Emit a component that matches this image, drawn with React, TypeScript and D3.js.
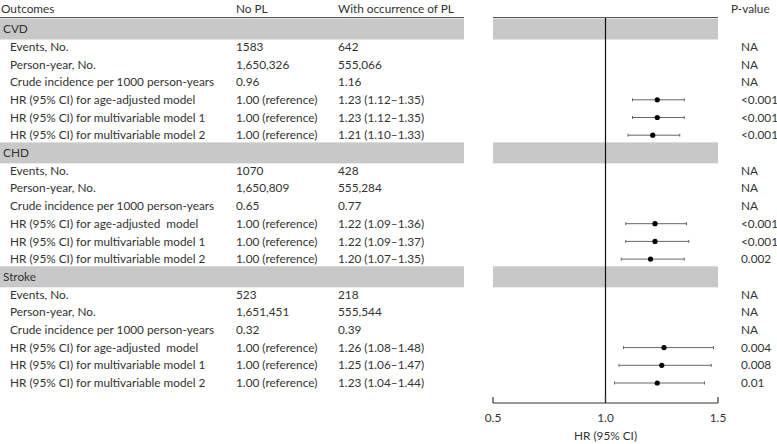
import * as d3 from 'd3';

const groups = ['CVD', 'CHD', 'Stroke'];
const rowLabels = [
  ['Events, No.', 'Person-year, No.', 'Crude incidence per 1000 person-years', 'HR (95% CI) for age-adjusted model', 'HR (95% CI) for multivariable model 1', 'HR (95% CI) for multivariable model 2'],
  ['Events, No.', 'Person-year, No.', 'Crude incidence per 1000 person-years', 'HR (95% CI) for age-adjusted  model', 'HR (95% CI) for multivariable model 1', 'HR (95% CI) for multivariable model 2'],
  ['Events, No.', 'Person-year, No.', 'Crude incidence per 1000 person-years', 'HR (95% CI) for age-adjusted  model', 'HR (95% CI) for multivariable model 1', 'HR (95% CI) for multivariable model 2'],
];
const noPL = [
  ['1583', '1,650,326', '0.96', '1.00 (reference)', '1.00 (reference)', '1.00 (reference)'],
  ['1070', '1,650,809', '0.65', '1.00 (reference)', '1.00 (reference)', '1.00 (reference)'],
  ['523', '1,651,451', '0.32', '1.00 (reference)', '1.00 (reference)', '1.00 (reference)'],
];
const withPL = [
  ['642', '555,066', '1.16', '1.23 (1.12–1.35)', '1.23 (1.12–1.35)', '1.21 (1.10–1.33)'],
  ['428', '555,284', '0.77', '1.22 (1.09–1.36)', '1.22 (1.09–1.37)', '1.20 (1.07–1.35)'],
  ['218', '555,544', '0.39', '1.26 (1.08–1.48)', '1.25 (1.06–1.47)', '1.23 (1.04–1.44)'],
];
const hr = [
  [null, null, null, 1.23, 1.23, 1.21],
  [null, null, null, 1.22, 1.22, 1.2],
  [null, null, null, 1.26, 1.25, 1.23],
];
const lower = [
  [null, null, null, 1.12, 1.12, 1.1],
  [null, null, null, 1.09, 1.09, 1.07],
  [null, null, null, 1.08, 1.06, 1.04],
];
const upper = [
  [null, null, null, 1.35, 1.35, 1.33],
  [null, null, null, 1.36, 1.37, 1.35],
  [null, null, null, 1.48, 1.47, 1.44],
];
const pValues = [
  ['NA', 'NA', 'NA', '<0.001', '<0.001', '<0.001'],
  ['NA', 'NA', 'NA', '<0.001', '<0.001', '0.002'],
  ['NA', 'NA', 'NA', '0.004', '0.008', '0.01'],
];
const xTicks = [0.5, 1.0, 1.5];

type Row = { kind: 'group' | 'item'; g: number; i: number };

const width = 777;
const height = 444;
const font = 'Lato, "Open Sans", sans-serif';
const textColor = '#333';
const bandFill = '#c8c8c8';

const App = (): React.ReactElement => {
  const rows: Row[] = [];
  groups.forEach((_, g) => {
    rows.push({ kind: 'group', g, i: -1 });
    rowLabels[g].forEach((__, i) => rows.push({ kind: 'item', g, i }));
  });

  const yScale = d3
    .scalePoint<number>()
    .domain(d3.range(rows.length))
    .range([29, 383]);

  const xScale = d3.scaleLinear().domain([0.5, 1.5]).range([493, 718]);
  const axisY = 403;
  const bandH = 21;

  return (
    <div style={{ position: 'absolute', left: 0, top: 0 }}>
      <svg width={width} height={height} style={{ display: 'block', fontFamily: font, fontSize: 11.8 }}>
        <rect x={0} y={0} width={width} height={height} fill="#fff" />
        {/* header */}
        <text x={1} y={13} fill={textColor}>Outcomes</text>
        <text x={236} y={13} fill={textColor}>No PL</text>
        <text x={338} y={13} fill={textColor}>With occurrence of PL</text>
        <text x={731} y={13} fill={textColor}>P-value</text>

        {/* group bands */}
        {rows.map((r, k) =>
          r.kind === 'group' ? (
            <g key={'band' + k}>
              <rect x={0} y={(yScale(k) ?? 0) - bandH / 2} width={464} height={bandH} fill={bandFill} />
              <rect x={xScale(0.5)} y={(yScale(k) ?? 0) - bandH / 2} width={xScale(1.5) - xScale(0.5)} height={bandH} fill={bandFill} />
              <text x={3} y={(yScale(k) ?? 0)} dy="0.35em" fill={textColor}>{groups[r.g]}</text>
            </g>
          ) : null,
        )}
        <line x1={0} x2={464} y1={17.5} y2={17.5} stroke="#555" strokeWidth={1} />
        <line x1={xScale(0.5)} x2={xScale(1.5)} y1={17.5} y2={17.5} stroke="#555" strokeWidth={1} />

        {/* reference line */}
        <line x1={xScale(1)} x2={xScale(1)} y1={18} y2={axisY} stroke="#111" strokeWidth={1.2} />

        {/* rows */}
        {rows.map((r, k) => {
          if (r.kind !== 'item') return null;
          const y = yScale(k) ?? 0;
          const est = hr[r.g][r.i];
          const lo = lower[r.g][r.i];
          const hi = upper[r.g][r.i];
          return (
            <g key={'row' + k}>
              <text x={10} y={y} dy="0.35em" fill={textColor} style={{ whiteSpace: 'pre' }}>{rowLabels[r.g][r.i]}</text>
              <text x={236} y={y} dy="0.35em" fill={textColor}>{noPL[r.g][r.i]}</text>
              <text x={338} y={y} dy="0.35em" fill={textColor}>{withPL[r.g][r.i]}</text>
              <text x={741} y={y} dy="0.35em" fill={textColor}>{pValues[r.g][r.i]}</text>
              {est !== null && lo !== null && hi !== null ? (
                <g>
                  <line x1={xScale(lo)} x2={xScale(hi)} y1={y} y2={y} stroke="#666" strokeWidth={1} />
                  <line x1={xScale(lo)} x2={xScale(lo)} y1={y - 1.5} y2={y + 1.5} stroke="#666" strokeWidth={1} />
                  <line x1={xScale(hi)} x2={xScale(hi)} y1={y - 1.5} y2={y + 1.5} stroke="#666" strokeWidth={1} />
                  <circle cx={xScale(est)} cy={y} r={2.6} fill="#000" />
                </g>
              ) : null}
            </g>
          );
        })}

        {/* axis */}
        <line x1={xScale(0.5)} x2={xScale(1.5)} y1={axisY} y2={axisY} stroke="#333" strokeWidth={1.2} />
        {xTicks.map((t) => (
          <g key={'t' + t}>
            <line x1={xScale(t)} x2={xScale(t)} y1={axisY} y2={axisY - 6} stroke="#333" strokeWidth={1.2} />
            <text x={xScale(t)} y={axisY + 19} textAnchor="middle" fill={textColor}>{t.toFixed(1)}</text>
          </g>
        ))}
        <text x={xScale(1)} y={axisY + 37} textAnchor="middle" fill={textColor}>HR (95% CI)</text>
      </svg>
    </div>
  );
};

export default App;
